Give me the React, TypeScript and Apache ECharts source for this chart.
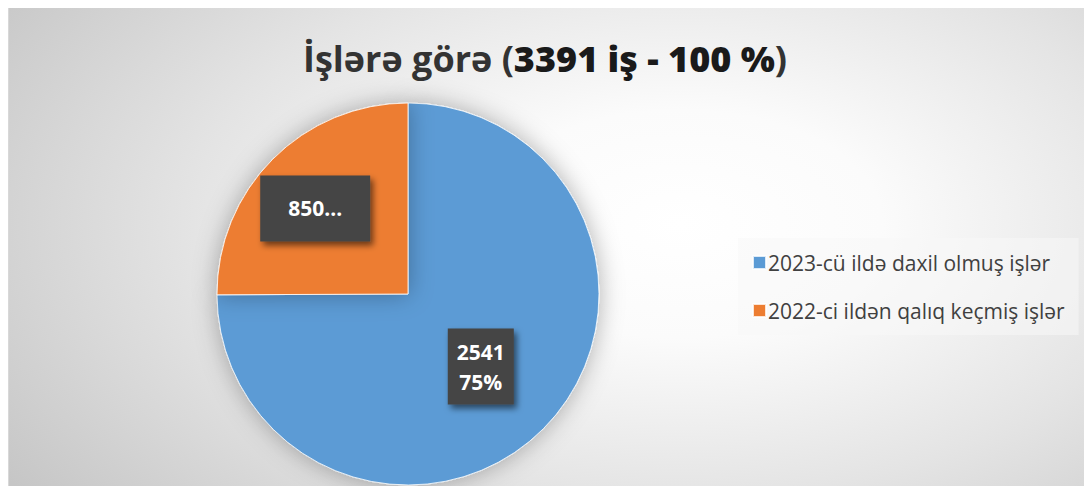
import React, { useEffect, useRef } from "react";
import * as echarts from "echarts";

const categories = ["2023-cü ildə daxil olmuş işlər", "2022-ci ildən qalıq keçmiş işlər"];
const values = [2541, 850];
const colors = ["#5B9BD5", "#ED7D31"];
const titleParts = ["İşlərə görə (", "3391 iş - 100 %", ")"];

export default function App() {
  const ref = useRef<HTMLDivElement>(null);
  useEffect(() => {
    if (!ref.current) return;
    const chart = echarts.init(ref.current, null, { renderer: "svg" });
    const labelBase = {
      show: true,
      position: "inside",
      color: "#ffffff",
      fontFamily: "Open Sans",
      fontWeight: "bold",
      fontSize: 21,
      backgroundColor: "#454545",
      shadowColor: "rgba(0,0,0,0.55)",
      shadowBlur: 6,
      shadowOffsetX: 3,
      shadowOffsetY: 4,
    };
    chart.setOption({
      animation: false,
      backgroundColor: "transparent",
      title: {
        text: `{a|${titleParts[0]}}{b|${titleParts[1]}}{a|${titleParts[2]}}`,
        left: 531,
        top: 27,
        textAlign: "center",
        textStyle: {
          rich: {
            a: { fontFamily: "Open Sans", fontWeight: "bold", fontSize: 36, color: "#333333" },
            b: { fontFamily: "Open Sans", fontWeight: 800, fontSize: 36, color: "#1a1a1a" },
          },
        },
      },
      legend: {
        orient: "vertical",
        left: 729,
        top: 230,
        padding: [14, 14, 14, 14],
        backgroundColor: "rgba(248,248,248,0.55)",
        itemWidth: 13,
        itemHeight: 13,
        itemGap: 27,
        icon: "rect",
        data: categories,
        textStyle: { fontFamily: "Open Sans", fontSize: 21, color: "#404040", padding: [0, 0, 0, -3] },
      },
      series: [
        {
          type: "pie",
          center: [399, 286],
          radius: 191,
          startAngle: 90,
          clockwise: true,
          itemStyle: {
            borderColor: "rgba(255,255,255,0.8)",
            borderWidth: 1,
            shadowBlur: 24,
            shadowColor: "rgba(0,0,0,0.3)",
          },
          labelLine: { show: false },
          emphasis: { disabled: true },
          data: [
            {
              name: categories[0],
              value: values[0],
              itemStyle: { color: colors[0] },
              label: {
                ...labelBase,
                formatter: (p: any) => `${p.value}\n${Math.round(p.percent)}%`,
                lineHeight: 30,
                padding: [8, 9, 8, 9],
                offset: [3, 3],
              },
            },
            {
              name: categories[1],
              value: values[1],
              itemStyle: { color: colors[1] },
              label: {
                ...labelBase,
                formatter: (p: any) => `${p.value}...`,
                lineHeight: 28,
                padding: [19, 28, 19, 28],
                offset: [-23, -16],
              },
            },
          ],
        },
      ],
    });
    return () => chart.dispose();
  }, []);
  return (
    <div
      ref={ref}
      style={{
        width: 1082,
        height: 480,
        marginTop: -1,
        borderTop: "1px solid #d0d0d0",
        borderLeft: "1px solid #d8d8d8",
        borderRight: "1px solid #bdbdbd",
        background:
          "radial-gradient(ellipse 75% 95% at 62% 45%, #ffffff 0%, #fbfbfb 25%, #e4e4e4 60%, #c6c6c6 100%)",
      }}
    />
  );
}
